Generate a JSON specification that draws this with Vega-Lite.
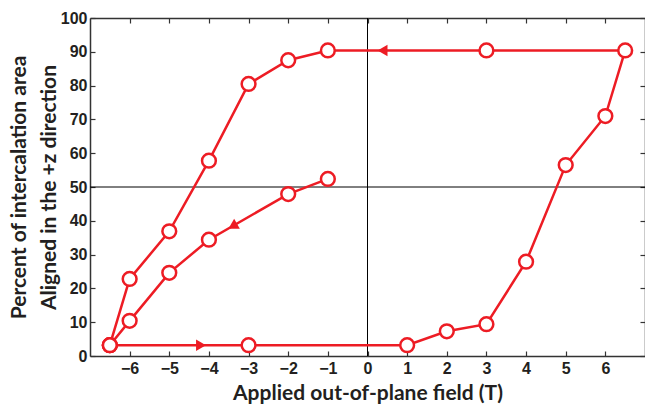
{
  "$schema": "https://vega.github.io/schema/vega-lite/v6.json",
  "width": 555,
  "height": 338,
  "autosize": "none",
  "padding": {"left": 90, "top": 18, "right": 0, "bottom": 49},
  "background": "white",
  "config": {
    "view": {"stroke": null},
    "axis": {
      "grid": false,
      "domainColor": "#333333",
      "domainWidth": 1.5,
      "tickColor": "#333333",
      "tickWidth": 1.2,
      "tickSize": -5,
      "labelFont": "Liberation Sans",
      "labelFontWeight": "bold",
      "labelFontSize": 16,
      "labelColor": "#231f20",
      "titleFont": "Lato",
      "titleFontWeight": "bold",
      "titleFontSize": 21,
      "titleColor": "#231f20"
    }
  },
  "datasets": {
    "curves": [
      {"curve": "virgin", "order": 1, "field": -1, "percent": 52.4},
      {"curve": "virgin", "order": 2, "field": -2, "percent": 47.9},
      {"curve": "virgin", "order": 3, "field": -4, "percent": 34.4},
      {"curve": "virgin", "order": 4, "field": -5, "percent": 24.6},
      {"curve": "virgin", "order": 5, "field": -6, "percent": 10.4},
      {"curve": "virgin", "order": 6, "field": -6.5, "percent": 3.2},
      {"curve": "loop", "order": 1, "field": -6.5, "percent": 3.2},
      {"curve": "loop", "order": 2, "field": -3, "percent": 3.2},
      {"curve": "loop", "order": 3, "field": 1, "percent": 3.2},
      {"curve": "loop", "order": 4, "field": 2, "percent": 7.3},
      {"curve": "loop", "order": 5, "field": 3, "percent": 9.4},
      {"curve": "loop", "order": 6, "field": 4, "percent": 27.9},
      {"curve": "loop", "order": 7, "field": 5, "percent": 56.5},
      {"curve": "loop", "order": 8, "field": 6, "percent": 71},
      {"curve": "loop", "order": 9, "field": 6.5, "percent": 90.4},
      {"curve": "loop", "order": 10, "field": 3, "percent": 90.4},
      {"curve": "loop", "order": 11, "field": -1, "percent": 90.4},
      {"curve": "loop", "order": 12, "field": -2, "percent": 87.5},
      {"curve": "loop", "order": 13, "field": -3, "percent": 80.5},
      {"curve": "loop", "order": 14, "field": -4, "percent": 57.8},
      {"curve": "loop", "order": 15, "field": -5, "percent": 36.9},
      {"curve": "loop", "order": 16, "field": -6, "percent": 22.8},
      {"curve": "loop", "order": 17, "field": -6.5, "percent": 3.2}
    ],
    "arrows": [
      {"dir": "downleft", "field": -3.4, "percent": 38.4},
      {"dir": "right", "field": -4.2, "percent": 3.2},
      {"dir": "left", "field": 0.38, "percent": 90.4}
    ]
  },
  "resolve": {"axis": {"x": "independent", "y": "independent"}},
  "layer": [
    {
      "data": {"values": [{"zero": 0}]},
      "mark": {"type": "rule", "color": "#000000", "strokeWidth": 1},
      "encoding": {
        "x": {
          "field": "zero", "type": "quantitative",
          "scale": {"domain": [-7, 7], "nice": false, "zero": false},
          "axis": {"orient": "top", "labels": false, "title": null, "values": [-6, -5, -4, -3, -2, -1, 0, 1, 2, 3, 4, 5, 6], "domain": true}
        }
      }
    },
    {
      "data": {"values": [{"half": 50}]},
      "mark": {"type": "rule", "color": "#000000", "strokeWidth": 1},
      "encoding": {
        "y": {
          "field": "half", "type": "quantitative",
          "scale": {"domain": [0, 100], "nice": false},
          "axis": {"orient": "right", "labels": false, "title": null, "values": [0, 10, 20, 30, 40, 50, 60, 70, 80, 90, 100], "domain": true}
        }
      }
    },
    {
      "data": {"name": "curves"},
      "mark": {"type": "line", "color": "#ed1c24", "strokeWidth": 2.5},
      "encoding": {
        "x": {
          "field": "field", "type": "quantitative",
          "scale": {"domain": [-7, 7], "nice": false, "zero": false},
          "axis": {"orient": "bottom", "title": "Applied out-of-plane field (T)", "values": [-6, -5, -4, -3, -2, -1, 0, 1, 2, 3, 4, 5, 6], "labelPadding": 9, "titlePadding": 6}
        },
        "y": {
          "field": "percent", "type": "quantitative",
          "scale": {"domain": [0, 100], "nice": false},
          "axis": {"orient": "left", "title": ["Percent of intercalation area", "Aligned in the +z direction"], "values": [0, 10, 20, 30, 40, 50, 60, 70, 80, 90, 100], "labelPadding": 8, "titlePadding": 1, "titleLineHeight": 30}
        },
        "detail": {"field": "curve"},
        "order": {"field": "order"}
      }
    },
    {
      "data": {"name": "curves"},
      "mark": {"type": "point", "shape": "circle", "filled": true, "fill": "white", "stroke": "#ed1c24", "strokeWidth": 2.5, "size": 190, "opacity": 1},
      "encoding": {
        "x": {"field": "field", "type": "quantitative", "axis": null},
        "y": {"field": "percent", "type": "quantitative", "axis": null}
      }
    },
    {
      "data": {"name": "arrows"},
      "transform": [{"filter": "datum.dir === 'right'"}],
      "mark": {"type": "point", "shape": "triangle-right", "filled": true, "color": "#ed1c24", "size": 130, "opacity": 1},
      "encoding": {
        "x": {"field": "field", "type": "quantitative", "axis": null},
        "y": {"field": "percent", "type": "quantitative", "axis": null}
      }
    },
    {
      "data": {"name": "arrows"},
      "transform": [{"filter": "datum.dir === 'left'"}],
      "mark": {"type": "point", "shape": "triangle-left", "filled": true, "color": "#ed1c24", "size": 130, "opacity": 1},
      "encoding": {
        "x": {"field": "field", "type": "quantitative", "axis": null},
        "y": {"field": "percent", "type": "quantitative", "axis": null}
      }
    },
    {
      "data": {"name": "arrows"},
      "transform": [{"filter": "datum.dir === 'downleft'"}],
      "mark": {"type": "point", "shape": "triangle-left", "filled": true, "color": "#ed1c24", "size": 130, "opacity": 1, "angle": 330},
      "encoding": {
        "x": {"field": "field", "type": "quantitative", "axis": null},
        "y": {"field": "percent", "type": "quantitative", "axis": null}
      }
    }
  ]
}
